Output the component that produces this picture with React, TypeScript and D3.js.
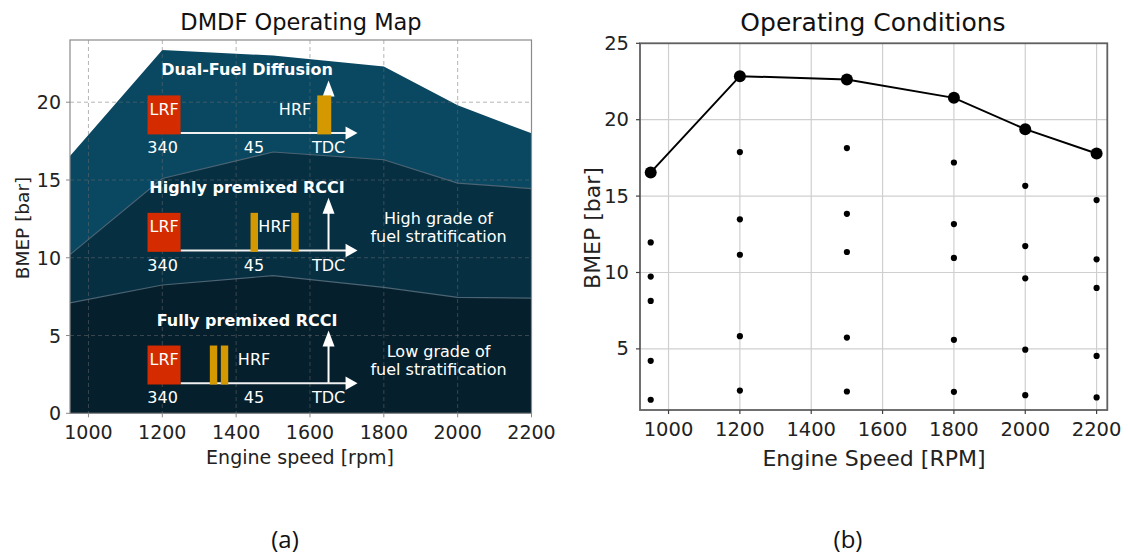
import React from "react";
import * as d3 from "d3";

// ---------- DATA ----------
const speeds = [950, 1200, 1500, 1800, 2000, 2200];
// Left map: regime boundaries (BMEP, bar)
const dfdLimit = [16.55, 23.35, 23.0, 22.3, 19.8, 18.0];
const hpRcciLimit = [10.2, 15.1, 16.8, 16.3, 14.8, 14.45];
const fpRcciLimit = [7.1, 8.25, 8.85, 8.1, 7.45, 7.4];

// Right plot: operating conditions
const maxLoad = [16.55, 22.85, 22.63, 21.43, 19.38, 17.79];
const pts950 = [11.97, 9.73, 8.14, 4.22, 1.67];
const pts1200 = [17.88, 13.48, 11.16, 5.83, 2.27];
const pts1500 = [18.14, 13.84, 11.34, 5.74, 2.21];
const pts1800 = [17.2, 13.17, 10.95, 5.59, 2.19];
const pts2000 = [15.67, 11.73, 9.62, 4.95, 1.97];
const pts2200 = [14.74, 10.86, 8.99, 4.54, 1.82];
const pointSets = [pts950, pts1200, pts1500, pts1800, pts2000, pts2200];

const xTicks = [1000, 1200, 1400, 1600, 1800, 2000, 2200];
const yTicksLeft = [0, 5, 10, 15, 20];
const yTicksRight = [5, 10, 15, 20, 25];

// Diagram annotations (anchor rpm, baseline BMEP)
const diagTitles = ["Dual-Fuel Diffusion", "Highly premixed RCCI", "Fully premixed RCCI"];
const diagBase = [17.93, 10.38, 1.85];
const diagAnchor = 1160;
const diagHrfBars = [
  [[169.7, 14]],
  [[103, 7.5], [143.7, 7.5]],
  [[62.3, 7.4], [73.3, 7.4]],
];
const diagHrfText = [147.5, 127, 106.5];
const diagSideText = [[], ["High grade of", "fuel stratification"], ["Low grade of", "fuel stratification"]];

const FONT = "DejaVu Sans, sans-serif";

function Diagram({ i, x, y }: { i: number; x: number; y: number }) {
  const bh = 39;
  return (
    <g transform={`translate(${x},${y})`} fontFamily={FONT} fill="white">
      <text x={99.5} y={-64.5} textAnchor="middle" dominantBaseline="central" fontWeight="bold" fontSize={16}>
        {diagTitles[i]}
      </text>
      {/* vertical TDC arrow */}
      <line x1={181} x2={181} y1={-1} y2={-40} stroke="white" strokeWidth={2} />
      <path d="M175,-38 L187,-38 L181,-54 Z" fill="white" />
      {/* horizontal arrow */}
      <line x1={33} x2={199} y1={-1.3} y2={-1.3} stroke="#f0f0f0" strokeWidth={2} />
      <path d="M198,-8 L210,-1.3 L198,5.4 Z" fill="white" />
      <rect x={0} y={-bh} width={33} height={bh} fill="#d42b00" />
      <text x={2} y={-25} dominantBaseline="central" fontSize={16}>LRF</text>
      {diagHrfBars[i].map(([bx, bw], k) => (
        <rect key={k} x={bx} y={-bh} width={bw} height={bh} fill="#d49800" />
      ))}
      <text x={diagHrfText[i]} y={-25} textAnchor="middle" dominantBaseline="central" fontSize={16}>HRF</text>
      <text x={15} y={13.3} textAnchor="middle" dominantBaseline="central" fontSize={16}>340</text>
      <text x={106.5} y={13.3} textAnchor="middle" dominantBaseline="central" fontSize={16}>45</text>
      <text x={181} y={13.3} textAnchor="middle" dominantBaseline="central" fontSize={16}>TDC</text>
      {diagSideText[i].map((t, k) => (
        <text key={k} x={291} y={k === 0 ? -33 : -15.5} textAnchor="middle" dominantBaseline="central" fontSize={16}>
          {t}
        </text>
      ))}
    </g>
  );
}

export default function App() {
  // Left scales
  const xL = d3.scaleLinear().domain([950, 2200]).range([70, 531.5]);
  const yL = d3.scaleLinear().domain([0, 24]).range([413.3, 40]);
  // Right scales
  const xR = d3.scaleLinear().domain([920, 2230]).range([640, 1107.3]);
  const yR = d3.scaleLinear().domain([1, 25]).range([410, 43.3]);

  const areaOf = (vals: number[]) =>
    d3
      .area<number>()
      .x((_, k) => xL(speeds[k]))
      .y0(yL(0))
      .y1((v) => yL(v))(vals) as string;
  const lineOf = (vals: number[]) =>
    d3
      .line<number>()
      .x((_, k) => xL(speeds[k]))
      .y((v) => yL(v))(vals) as string;
  const maxLine = d3
    .line<number>()
    .x((_, k) => xR(speeds[k]))
    .y((v) => yR(v))(maxLoad) as string;

  const [l0, l1] = xL.range();
  const [b0, t0] = yL.range();
  const [r0, r1] = xR.range();
  const [rb, rt] = yR.range();

  return (
    <svg
      width={1128}
      height={553}
      style={{ position: "absolute", left: 0, top: 0, background: "white" }}
      fontFamily={FONT}
    >
      {/* ---------- LEFT ---------- */}
      <path d={areaOf(dfdLimit)} fill="#0a4862" />
      <path d={areaOf(hpRcciLimit)} fill="#062f42" />
      <path d={lineOf(hpRcciLimit)} fill="none" stroke="#4c6473" strokeWidth={1.2} />
      <path d={areaOf(fpRcciLimit)} fill="#061f2c" />
      <path d={lineOf(fpRcciLimit)} fill="none" stroke="#4c6473" strokeWidth={1.2} />
      {/* grid */}
      {xTicks.map((t) => (
        <line key={"gxl" + t} x1={xL(t)} x2={xL(t)} y1={t0} y2={b0} stroke="rgba(110,110,110,0.5)" strokeDasharray="4,3" strokeWidth={1} />
      ))}
      {yTicksLeft.slice(1).map((t) => (
        <line key={"gyl" + t} x1={l0} x2={l1} y1={yL(t)} y2={yL(t)} stroke="rgba(110,110,110,0.5)" strokeDasharray="4,3" strokeWidth={1} />
      ))}
      {[0, 1, 2].map((i) => (
        <Diagram key={i} i={i} x={xL(diagAnchor)} y={yL(diagBase[i])} />
      ))}
      <rect x={l0} y={t0} width={l1 - l0} height={b0 - t0} fill="none" stroke="#8a8a8a" strokeWidth={1.2} />
      {xTicks.map((t) => (
        <g key={"txl" + t}>
          <line x1={xL(t)} x2={xL(t)} y1={b0} y2={b0 + 4} stroke="#8a8a8a" />
          <text x={xL(t)} y={431.5} textAnchor="middle" dominantBaseline="central" fontSize={19} fill="#222">{t}</text>
        </g>
      ))}
      {yTicksLeft.map((t) => (
        <g key={"tyl" + t}>
          <line x1={l0 - 4} x2={l0} y1={yL(t)} y2={yL(t)} stroke="#8a8a8a" />
          <text x={61} y={yL(t)} textAnchor="end" dominantBaseline="central" fontSize={19} fill="#222">{t}</text>
        </g>
      ))}
      <text x={301} y={22} textAnchor="middle" dominantBaseline="central" fontSize={22.5} fill="#111">DMDF Operating Map</text>
      <text x={300} y={457} textAnchor="middle" dominantBaseline="central" fontSize={19} fill="#222">Engine speed [rpm]</text>
      <text transform="translate(22,228) rotate(-90)" textAnchor="middle" dominantBaseline="central" fontSize={18.5} fill="#222">BMEP [bar]</text>

      {/* ---------- RIGHT ---------- */}
      {xTicks.map((t) => (
        <line key={"gxr" + t} x1={xR(t)} x2={xR(t)} y1={rt} y2={rb} stroke="#cfcfcf" strokeWidth={1.2} />
      ))}
      {yTicksRight.map((t) => (
        <line key={"gyr" + t} x1={r0} x2={r1} y1={yR(t)} y2={yR(t)} stroke="#cfcfcf" strokeWidth={1.2} />
      ))}
      <path d={maxLine} fill="none" stroke="black" strokeWidth={2} />
      {maxLoad.map((v, k) => (
        <circle key={"ml" + k} cx={xR(speeds[k])} cy={yR(v)} r={6} fill="black" />
      ))}
      {pointSets.map((set, k) =>
        set.map((v, j) => <circle key={`p${k}-${j}`} cx={xR(speeds[k])} cy={yR(v)} r={3.1} fill="black" />)
      )}
      <rect x={r0} y={rt} width={r1 - r0} height={rb - rt} fill="none" stroke="#606060" strokeWidth={1.8} />
      {xTicks.map((t) => (
        <g key={"txr" + t}>
          <line x1={xR(t)} x2={xR(t)} y1={rb} y2={rb + 4} stroke="#404040" strokeWidth={1.2} />
          <text x={xR(t)} y={429} textAnchor="middle" dominantBaseline="central" fontSize={19.5} fill="#222">{t}</text>
        </g>
      ))}
      {yTicksRight.map((t) => (
        <g key={"tyr" + t}>
          <line x1={r0 - 4} x2={r0} y1={yR(t)} y2={yR(t)} stroke="#404040" strokeWidth={1.2} />
          <text x={629} y={yR(t)} textAnchor="end" dominantBaseline="central" fontSize={19.5} fill="#222">{t}</text>
        </g>
      ))}
      <text x={873} y={22} textAnchor="middle" dominantBaseline="central" fontSize={25} fill="#111">Operating Conditions</text>
      <text x={874} y={458} textAnchor="middle" dominantBaseline="central" fontSize={22} fill="#222">Engine Speed [RPM]</text>
      <text transform="translate(592,228) rotate(-90)" textAnchor="middle" dominantBaseline="central" fontSize={22} fill="#222">BMEP [bar]</text>

      {/* panel labels */}
      <text x={285} y={538} textAnchor="middle" dominantBaseline="central" fontSize={24} fontFamily="Open Sans, sans-serif" fill="#111">(a)</text>
      <text x={848} y={538} textAnchor="middle" dominantBaseline="central" fontSize={24} fontFamily="Open Sans, sans-serif" fill="#111">(b)</text>
    </svg>
  );
}
